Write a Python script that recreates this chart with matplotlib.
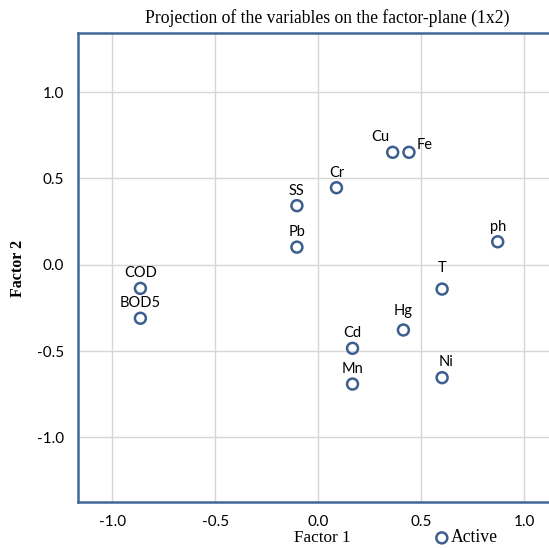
import matplotlib
matplotlib.use("Agg")
import matplotlib.pyplot as plt

# factor coordinates of the variables
names = ["Cu", "Fe", "Cr", "SS", "Pb", "COD", "BOD5", "T", "Hg", "Cd", "Mn", "Ni", "ph"]
factor1 = [0.361, 0.44, 0.088, -0.104, -0.104, -0.864, -0.864, 0.601, 0.413, 0.166, 0.166, 0.601, 0.871]
factor2 = [0.651, 0.651, 0.446, 0.342, 0.102, -0.137, -0.31, -0.141, -0.378, -0.484, -0.691, -0.654, 0.133]

xticks = [-1.0, -0.5, 0.0, 0.5, 1.0]
yticks = [-1.0, -0.5, 0.0, 0.5, 1.0]

# label placement (pixels from point), default is straight above
label_off = {"Cu": (-12, 15), "Fe": (16, 7), "T": (0, 21), "Hg": (0, 19), "Ni": (4, 16)}

blue = "#3D5F8E"
serif = "Liberation Serif"
sans = "Lato"

fig = plt.figure(figsize=(5.49, 5.48), dpi=100)
ax = fig.add_axes([78 / 549, 1 - 502 / 548, 1 - 78 / 549, (502 - 33) / 548])

ax.scatter(factor1, factor2, s=62, facecolors="none", edgecolors=blue,
           linewidths=1.8, zorder=3, label="Active")

for n, x, y in zip(names, factor1, factor2):
    dx, dy = label_off.get(n, (0, 15))
    ax.annotate(n, (x, y), xytext=(dx, dy), textcoords="offset pixels",
                ha="center", va="center", fontsize=10.5, family=sans, color="black")

ax.set_xlim(-1.167, 1.12)
ax.set_ylim(-1.374, 1.342)
ax.set_xticks(xticks)
ax.set_yticks(yticks)
ax.set_xticklabels(["%.1f" % v for v in xticks], family=sans, fontsize=11)
ax.set_yticklabels(["%.1f" % v for v in yticks], family=sans, fontsize=11)
ax.tick_params(length=0, pad=9)
ax.tick_params(axis="y", pad=10)

ax.grid(True, color="#D6D6D6", linewidth=1.0)
ax.set_axisbelow(True)

for side in ["left", "top", "bottom"]:
    ax.spines[side].set_color("#41679B")
    ax.spines[side].set_linewidth(1.8)
ax.spines["right"].set_visible(False)

fig.text(327 / 549, 1 - 18 / 548, "Projection of the variables on the factor-plane (1x2)",
         ha="center", va="center", family=serif, fontsize=12.7)
fig.text(322 / 549, 1 - 538 / 548, "Factor 1", ha="center", va="center",
         family=serif, fontsize=12.3)
fig.text(18 / 549, 1 - 268 / 548, "Factor 2", ha="center", va="center",
         rotation=90, family=serif, fontsize=11.5, fontweight="bold")

fig.legend(loc="center left", bbox_to_anchor=(433 / 549, 1 - 538 / 548), frameon=False,
           handlelength=1.0, handletextpad=0.0, borderpad=0, borderaxespad=0,
           prop={"family": serif, "size": 12.7})

fig.savefig("out.png", dpi=100)
